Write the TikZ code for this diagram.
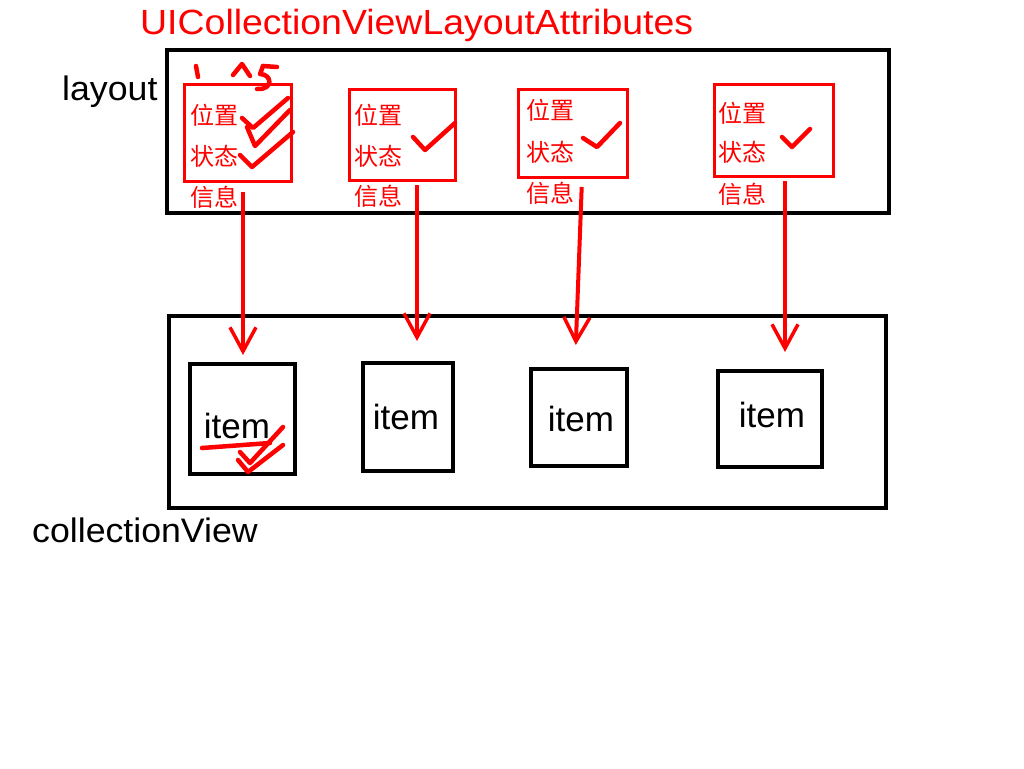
\documentclass[tikz,border=0pt]{standalone}
\usepackage{fontspec}
\setmainfont{Liberation Sans}
\newfontfamily\cjk{Noto Sans CJK SC}
\usetikzlibrary{arrows.meta}
\begin{document}
\begin{tikzpicture}[x=1pt,y=-1pt,
 blackbox/.style={draw=black,line width=4pt,inner sep=0pt},
 redbox/.style={draw=red,line width=3pt,inner sep=0pt},
 cn/.style={font=\cjk\fontsize{24}{24}\selectfont,text=red,anchor=west,inner sep=0pt},
 itemtext/.style={font=\fontsize{35}{35}\selectfont,inner sep=0pt,anchor=base},
 bigtext/.style={font=\fontsize{34}{34}\selectfont,inner sep=0pt,anchor=base west},
 arr/.style={red,line width=4pt,-{Straight Barb[length=24pt,width=26pt,line width=3.5pt]}},
 ink/.style={red,line width=4.5pt,line cap=round,line join=round}]
\useasboundingbox[fill=white] (0,0) rectangle (1024,768);

% title and labels
\node[font=\fontsize{35}{35}\selectfont,text=red,inner sep=0pt,anchor=base west] (title) at (140,35) {\scalebox{1.07}[1]{UICollectionViewLayoutAttributes}};
\node[bigtext] (lay) at (62,100) {\scalebox{1.05}[1]{layout}};
\node[bigtext] (cvl) at (32,542) {\scalebox{1.05}[1]{collectionView}};

% outer boxes
\node[blackbox,minimum width=722pt,minimum height=163pt] (layoutbox) at (528,131.5) {};
\node[blackbox,minimum width=717pt,minimum height=192pt] (cvbox) at (527.5,412) {};

% attribute boxes
\node[redbox,minimum width=107pt,minimum height=97pt] (a1) at (238,133) {};
\node[redbox,minimum width=106pt,minimum height=91pt] (a2) at (402.5,135) {};
\node[redbox,minimum width=109pt,minimum height=88pt] (a3) at (573,133.5) {};
\node[redbox,minimum width=119pt,minimum height=92pt] (a4) at (774,130.5) {};

% attribute texts
\node[cn] (p1) at (190,115) {位置};
\node[cn] (s1) at (190,156.5) {状态};
\node[cn] (i1t) at (190,197) {信息};
\node[cn] (p2) at (354,115) {位置};
\node[cn] (s2) at (354,156) {状态};
\node[cn] (i2t) at (354,196) {信息};
\node[cn] (p3) at (526,110) {位置};
\node[cn] (s3) at (526,152) {状态};
\node[cn] (i3t) at (526,193) {信息};
\node[cn] (p4) at (718,113) {位置};
\node[cn] (s4) at (718,152) {状态};
\node[cn] (i4t) at (718,194) {信息};

% item boxes
\node[blackbox,minimum width=105pt,minimum height=110pt] (it1) at (242.5,419) {};
\node[blackbox,minimum width=90pt,minimum height=108pt] (it2) at (408,417) {};
\node[blackbox,minimum width=96pt,minimum height=97pt] (it3) at (579,417.5) {};
\node[blackbox,minimum width=104pt,minimum height=96pt] (it4) at (770,419) {};
\node[itemtext] (t1) at (237,438) {item};
\node[itemtext] (t2) at (406,429) {item};
\node[itemtext] (t3) at (581,431) {item};
\node[itemtext] (t4) at (772,427) {item};

% arrows
\draw[arr,shorten <=9pt,shorten >=7pt] ([xshift=5pt]a1.south) -- ([xshift=0.5pt]it1.north);
\draw[arr,shorten <=3pt,shorten >=20pt] ([xshift=14.5pt]a2.south) -- ([xshift=9pt]it2.north);
\draw[arr,shorten <=8pt,shorten >=22pt] ([xshift=9pt]a3.south) -- ([xshift=-4pt]it3.north);
\draw[arr,shorten <=3pt,shorten >=17pt] ([xshift=11pt]a4.south) -- ([xshift=15pt]it4.north);

% hand-drawn checks
\draw[ink] (242,118) -- (253,128) -- (288,98);
\draw[ink] (247,127) -- (255,146) -- (290,110);
\draw[ink] (240,155) -- (252,167) -- (293,132);
\draw[ink] (413,137) -- (425,150) -- (455,123);
\draw[ink] (583,138) -- (597,147) -- (620,123);
\draw[ink] (782,137) -- (792,147) -- (810,129);

% scribble above box 1
\draw[ink] (196,66) -- (198,77);
\draw[ink] (233,75) -- (242,64) -- (250,76);
\draw[ink] (263,66) -- (277,67);
\draw[ink] (263,66) -- (260,74) .. controls (272,74) and (274,90) .. (257,89);

% scribble on item 1
\draw[ink] (202,448) -- (270,443);
\draw[ink] (240,452) -- (250,463) -- (283,427);
\draw[ink] (238,460) -- (248,472) -- (283,445);
\end{tikzpicture}
\end{document}
